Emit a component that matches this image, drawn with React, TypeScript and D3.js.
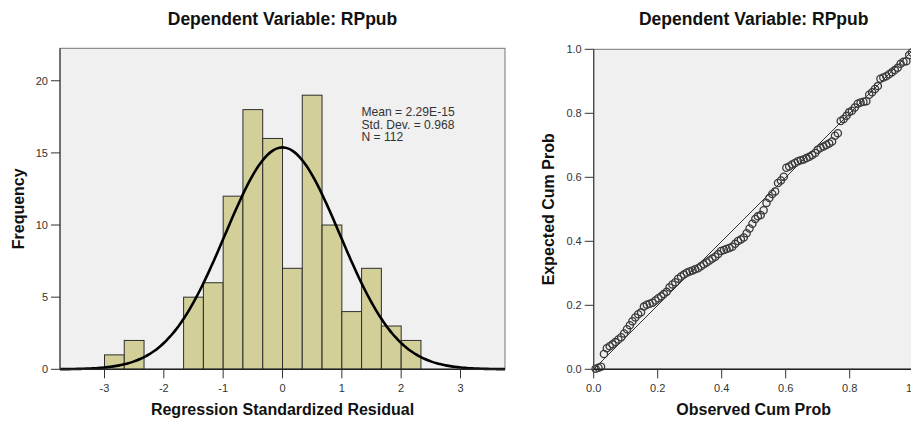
import * as d3 from "d3";

// histogram of standardized residuals
const binLowers = [-3, -2.667, -2.333, -2, -1.667, -1.333, -1, -0.667, -0.333, 0, 0.333, 0.667, 1, 1.333, 1.667, 2];
const binCounts = [1, 2, 0, 0, 5, 6, 12, 18, 16, 7, 19, 10, 4, 7, 3, 2];
const binWidth = 1 / 3;
const statMean = 2.29e-15;
const statSd = 0.968;
const statN = 112;
const statLines = ["Mean = 2.29E-15", "Std. Dev. = 0.968", "N = 112"];
const histXTicks = [-3, -2, -1, 0, 1, 2, 3];
const histYTicks = [0, 5, 10, 15, 20];

// P-P plot points
const observedCum = [
  0.006, 0.015, 0.023, 0.032, 0.041, 0.05, 0.059, 0.068, 0.077, 0.086,
  0.095, 0.104, 0.113, 0.121, 0.13, 0.139, 0.148, 0.157, 0.166, 0.175,
  0.184, 0.193, 0.202, 0.211, 0.219, 0.228, 0.237, 0.246, 0.255, 0.264,
  0.273, 0.282, 0.291, 0.3, 0.309, 0.317, 0.326, 0.335, 0.344, 0.353,
  0.362, 0.371, 0.38, 0.389, 0.398, 0.407, 0.415, 0.424, 0.433, 0.442,
  0.451, 0.46, 0.469, 0.478, 0.487, 0.496, 0.505, 0.513, 0.522, 0.531,
  0.54, 0.549, 0.558, 0.567, 0.576, 0.585, 0.594, 0.602, 0.611, 0.62,
  0.629, 0.638, 0.647, 0.656, 0.665, 0.674, 0.683, 0.692, 0.7, 0.709,
  0.718, 0.727, 0.736, 0.745, 0.754, 0.763, 0.772, 0.781, 0.79, 0.798,
  0.807, 0.816, 0.825, 0.834, 0.843, 0.852, 0.861, 0.87, 0.879, 0.888,
  0.896, 0.905, 0.914, 0.923, 0.932, 0.941, 0.95, 0.959, 0.968, 0.977,
  0.986, 0.994,
];
const expectedCum = [
  0.002, 0.005, 0.008,
  0.048, 0.066, 0.072, 0.078, 0.085,
  0.093, 0.1, 0.112, 0.125, 0.138, 0.15,
  0.162, 0.172, 0.178, 0.196, 0.202, 0.205, 0.208, 0.215, 0.222, 0.228, 0.235, 0.242,
  0.256, 0.265, 0.272, 0.283, 0.29, 0.296, 0.302, 0.306, 0.309, 0.313, 0.316, 0.322,
  0.328, 0.334, 0.34, 0.346, 0.352, 0.36,
  0.37, 0.373, 0.376, 0.379, 0.383, 0.392, 0.401, 0.406, 0.412, 0.425, 0.44, 0.455,
  0.47, 0.478, 0.482, 0.497,
  0.52, 0.535, 0.548, 0.556, 0.582, 0.59, 0.602,
  0.63, 0.634, 0.64, 0.645, 0.65, 0.653, 0.656, 0.66, 0.664, 0.67, 0.676, 0.686,
  0.692, 0.696, 0.701, 0.706, 0.712, 0.73, 0.738,
  0.776, 0.782, 0.792, 0.803, 0.808, 0.818, 0.83, 0.834, 0.836, 0.838,
  0.858, 0.866, 0.876, 0.885,
  0.908, 0.912, 0.916, 0.922, 0.928, 0.935, 0.942,
  0.955, 0.961, 0.963,
  0.982, 0.99,
];
const ppTicks = [0, 0.2, 0.4, 0.6, 0.8, 1];

const titleText = "Dependent Variable: RPpub";
const font = "Arial, 'Liberation Sans', sans-serif";

function Histogram() {
  const x = d3.scaleLinear().domain([-3.75, 3.75]).range([60, 505]);
  const y = d3.scaleLinear().domain([0, 22.25]).range([369.3, 48.3]);
  const [x0, x1] = x.range();
  const [yb, yt] = y.range();

  const peak = statN * binWidth;
  const curve = d3
    .line<number>()
    .x((d) => x(d))
    .y((d) => y((peak / (statSd * Math.sqrt(2 * Math.PI))) * Math.exp(-0.5 * ((d - statMean) / statSd) ** 2)))
    .curve(d3.curveBasis);
  const samples = d3.range(-3.75, 3.7501, 0.05);

  return (
    <g>
      <text x={(x0 + x1) / 2} y={25} textAnchor="middle" fontSize={17.5} fontWeight="bold" fill="#111">
        {titleText}
      </text>
      <rect x={x0} y={yt} width={x1 - x0} height={yb - yt} fill="#f0f0f0" stroke="#777" strokeWidth={1} />
      {binLowers.map((b, i) =>
        binCounts[i] > 0 ? (
          <rect
            key={i}
            x={x(b)}
            y={y(binCounts[i])}
            width={x(b + binWidth) - x(b)}
            height={yb - y(binCounts[i])}
            fill="#d3cf98"
            stroke="#2e2e2e"
            strokeWidth={1}
          />
        ) : null
      )}
      <path d={curve(samples) || ""} fill="none" stroke="#000" strokeWidth={2.6} />
      <line x1={x0} x2={x1} y1={yb} y2={yb} stroke="#222" strokeWidth={1.6} />
      <line x1={x0} x2={x0} y1={yt} y2={yb} stroke="#444" strokeWidth={1.2} />
      {histYTicks.map((t) => (
        <g key={t}>
          <line x1={x0 - 9} x2={x0} y1={y(t)} y2={y(t)} stroke="#333" />
          <text x={x0 - 12} y={y(t) + 4} textAnchor="end" fontSize={11} fill="#333">
            {t}
          </text>
        </g>
      ))}
      {histXTicks.map((t) => (
        <g key={t}>
          <line x1={x(t)} x2={x(t)} y1={yb} y2={yb + 9} stroke="#333" />
          <text x={x(t)} y={391.5} textAnchor="middle" fontSize={11} fill="#333">
            {t}
          </text>
        </g>
      ))}
      {statLines.map((s, i) => (
        <text key={s} x={361.5} y={116 + i * 12.5} fontSize={12.1} fill="#333">
          {s}
        </text>
      ))}
      <text x={(x0 + x1) / 2} y={415} textAnchor="middle" fontSize={16} fontWeight="bold" fill="#111">
        Regression Standardized Residual
      </text>
      <text
        transform={`translate(24,${(yt + yb) / 2}) rotate(-90)`}
        textAnchor="middle"
        fontSize={16}
        fontWeight="bold"
        fill="#111"
      >
        Frequency
      </text>
    </g>
  );
}

function PPPlot() {
  const x = d3.scaleLinear().domain([0, 1]).range([593.7, 913.7]);
  const y = d3.scaleLinear().domain([0, 1]).range([369.3, 49.3]);
  const [x0, x1] = x.range();
  const [yb, yt] = y.range();
  const fmt = d3.format(".1f");

  return (
    <g>
      <text x={(x0 + x1) / 2} y={25} textAnchor="middle" fontSize={17.5} fontWeight="bold" fill="#111">
        {titleText}
      </text>
      <rect x={x0} y={yt} width={x1 - x0} height={yb - yt} fill="#f0f0f0" stroke="#777" strokeWidth={1} />
      <line x1={x(0)} y1={y(0)} x2={x(1)} y2={y(1)} stroke="#333" strokeWidth={1} />
      {observedCum.map((o, i) => (
        <circle key={i} cx={x(o)} cy={y(expectedCum[i])} r={3.6} fill="none" stroke="#3a3a3a" strokeWidth={1.3} />
      ))}
      <line x1={x0} x2={x1} y1={yb} y2={yb} stroke="#222" strokeWidth={1.6} />
      <line x1={x0} x2={x0} y1={yt} y2={yb} stroke="#444" strokeWidth={1.2} />
      {ppTicks.map((t) => (
        <g key={"y" + t}>
          <line x1={x0 - 9} x2={x0} y1={y(t)} y2={y(t)} stroke="#333" />
          <text x={x0 - 12} y={y(t) + 4} textAnchor="end" fontSize={11} fill="#333">
            {fmt(t)}
          </text>
        </g>
      ))}
      {ppTicks.map((t) => (
        <g key={"x" + t}>
          <line x1={x(t)} x2={x(t)} y1={yb} y2={yb + 9} stroke="#333" />
          <text x={x(t)} y={391.5} textAnchor="middle" fontSize={11} fill="#333">
            {fmt(t)}
          </text>
        </g>
      ))}
      <text x={(x0 + x1) / 2} y={415} textAnchor="middle" fontSize={16} fontWeight="bold" fill="#111">
        Observed Cum Prob
      </text>
      <text
        transform={`translate(554,${(yt + yb) / 2}) rotate(-90)`}
        textAnchor="middle"
        fontSize={16}
        fontWeight="bold"
        fill="#111"
      >
        Expected Cum Prob
      </text>
    </g>
  );
}

export default function App() {
  return (
    <div style={{ position: "absolute", left: 0, top: 0 }}>
      <svg width={911} height={421} style={{ display: "block", fontFamily: font, background: "#fff" }}>
        <Histogram />
        <PPPlot />
      </svg>
    </div>
  );
}
